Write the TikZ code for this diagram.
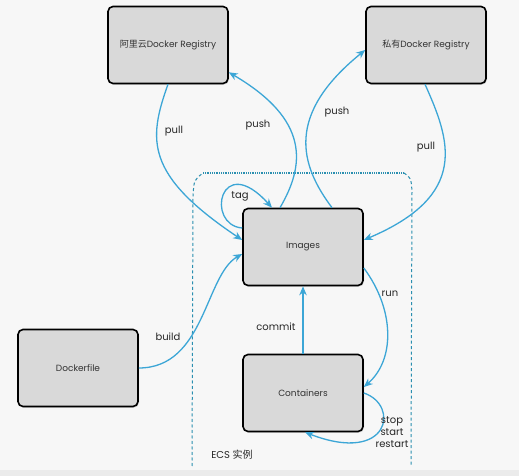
\documentclass[tikz,border=0pt]{standalone}
\usepackage{fontspec}
\setmainfont{Poppins}
\newfontfamily\cjk{Noto Sans CJK SC}
\usetikzlibrary{arrows.meta,shadows}

\definecolor{flowblue}{HTML}{3CA6D6}
\definecolor{ecsteal}{HTML}{2A8FB0}
\definecolor{boxgray}{HTML}{D9D9D9}

\begin{document}
\begin{tikzpicture}[x=1pt,y=1pt,>=Stealth,
    box/.style={draw=black,line width=1.6pt,fill=boxgray,rounded corners=5pt,
        minimum width=120pt,minimum height=77pt,inner sep=0pt,
        font=\fontsize{9}{11}\selectfont,text=black!80,
        drop shadow={opacity=0.3,shadow xshift=1pt,shadow yshift=-1.2pt}},
    flow/.style={draw=flowblue,line width=1.3pt,-{Stealth[length=9pt,width=7.5pt]}},
    lbl/.style={font=\fontsize{10}{11}\selectfont,text=black!85,align=center},
    ecsside/.style={draw=ecsteal,line width=1pt,dash pattern=on 3pt off 2.5pt},
    ecstop/.style={draw=ecsteal,line width=1.6pt,dash pattern=on 1pt off 0.8pt}]
        \fill[white!97!black] (0,0) rectangle (519,476);
        \fill[black!8] (0,0) rectangle (519,6);
        \useasboundingbox (0,0) rectangle (519,476);
        % ECS instance frame
        \draw[ecsside] (192,10) -- (193,280) .. controls (194,296) .. (203,303);
        \draw[ecstop] (203,303) -- (404,303);
        \draw[ecsside] (404,303) .. controls (411,298) .. (412,285) -- (411,10);
        \node[lbl] (ecs) at (232,21) {ECS {\cjk 实例}};
        % boxes
        \node[box] (ali) at (168,431) {{\cjk 阿里云}Docker Registry};
        \node[box] (priv) at (426,431) {{\cjk 私有}Docker Registry};
        \node[box] (img) at (303,229) {Images};
        \node[box] (cont) at (303,83) {Containers};
        \node[box] (dfile) at (78,108) {Dockerfile};
        % registries
        \draw[flow] (ali.south) .. controls (148,336) and (145,301) .. ([yshift=7pt]img.west);
        \node[lbl] (pullali) at (174,345) {pull};
        \draw[flow] ([xshift=-23pt]img.north) .. controls (305,311) and (310,356) .. ([yshift=12pt]ali.south east);
        \node[lbl] (pushali) at (258,351) {push};
        \draw[flow] ([xshift=29pt]img.north) .. controls (300,311) and (285,361) .. ([yshift=-5pt]priv.west);
        \node[lbl] (pushpriv) at (337,364) {push};
        \draw[flow] ([xshift=-1pt]priv.south) .. controls (450,336) and (470,281) .. ([yshift=7pt]img.east);
        \node[lbl] (pullpriv) at (426,329) {pull};
        % local
        \draw[flow] ([yshift=19pt]img.west) .. controls (205,251) and (220,326) .. ([xshift=-31pt]img.north);
        \node[lbl] (tag) at (240,280) {tag};
        \draw[flow] (dfile.east) .. controls (205,108) and (205,201) .. ([yshift=-7pt]img.west);
        \node[lbl] (build) at (168,139) {build};
        \draw[flow] (cont.north) -- (img.south);
        \node[lbl] (commit) at (276,149) {commit};
        \draw[flow] ([yshift=-21pt]img.east) .. controls (395,166) and (395,116) .. ([yshift=6pt]cont.east);
        \node[lbl] (run) at (390,182) {run};
        \draw[flow] (cont.east) .. controls (400,71) and (390,11) .. ([xshift=2pt]cont.south);
        \node[lbl,font=\fontsize{10}{12}\selectfont] (states) at (392,44) {stop\\start\\restart};
    \end{tikzpicture}
\end{document}
